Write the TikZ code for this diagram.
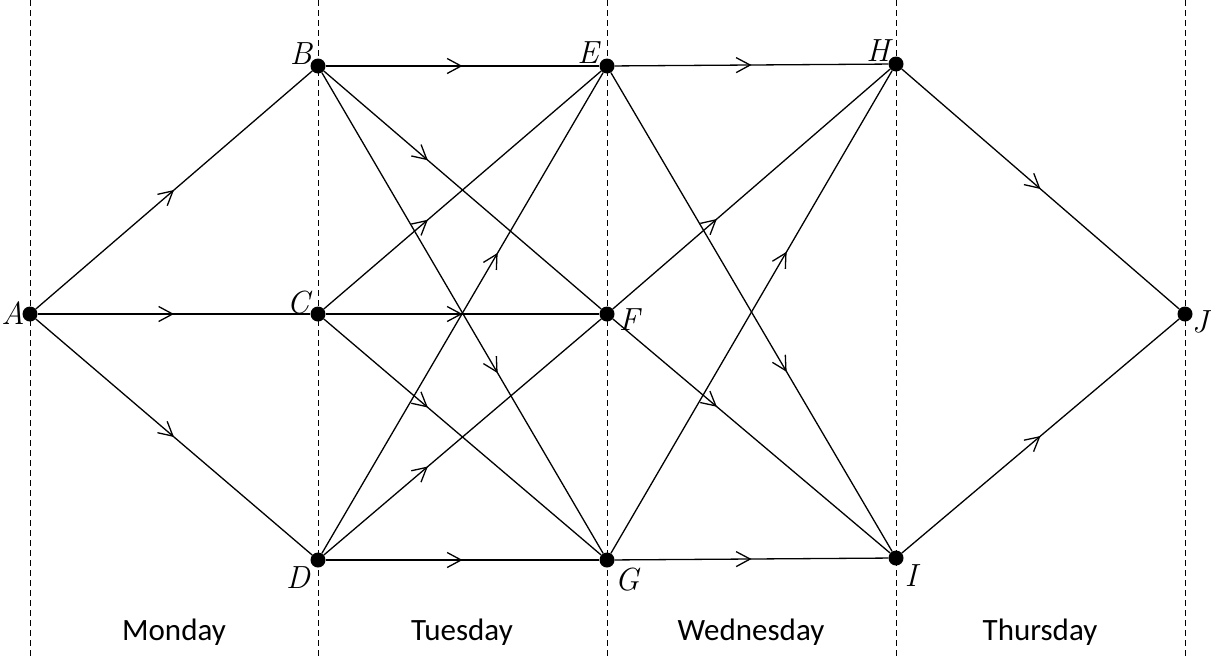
\documentclass[tikz,border=0pt]{standalone}
\usepackage{fontspec}
\setsansfont{Carlito}
\usetikzlibrary{decorations.markings,arrows.meta}
\tikzset{
  dot/.style={circle,fill=black,inner sep=0pt,minimum size=15pt},
  daydash/.style={line width=0.9pt,dash pattern=on 6pt off 4pt},
  edge/.style={line width=1.3pt},
  midarrow/.style={edge,postaction={decorate},decoration={markings,
     mark=at position #1 with {\arrow{Straight Barb[length=14pt,width=15pt,line width=1.3pt]}}}},
  lbl/.style={font=\itshape\fontsize{32}{32}\selectfont},
  daylbl/.style={font=\sffamily\fontsize{31}{31}\selectfont}
}
\begin{document}
\begin{tikzpicture}[x=1pt,y=-1pt]
\useasboundingbox (0,0) rectangle (1211,659);
% dashed day separators
\foreach \i/\xx in {1/30,2/318,3/607,4/896,5/1185}{
  \coordinate (t\i) at (\xx,0);
  \coordinate (b\i) at (\xx,659);
  \draw[daydash] (t\i) -- (b\i);
}
% vertices
\node[dot] (A) at (30,314) {};
\node[dot] (B) at (318,66) {};
\node[dot] (C) at (318,314) {};
\node[dot] (D) at (318,560) {};
\node[dot] (E) at (607,66) {};
\node[dot] (F) at (607,314) {};
\node[dot] (G) at (607,560) {};
\node[dot] (H) at (896,64) {};
\node[dot] (I) at (896,558) {};
\node[dot] (J) at (1185,314) {};
% labels
\node[lbl] (lA) at (13,313) {A};
\node[lbl] (lB) at (301,54) {B};
\node[lbl] (lC) at (298,303) {C};
\node[lbl] (lD) at (298,578) {D};
\node[lbl] (lE) at (588,53) {E};
\node[lbl] (lF) at (629,320) {F};
\node[lbl] (lG) at (627,580) {G};
\node[lbl] (lH) at (878,51) {H};
\node[lbl] (lI) at (911,576) {I};
\node[lbl] (lJ) at (1200,322) {J};
% edges
\draw[midarrow=0.5] (A) -- (B);
\draw[midarrow=0.5] (A) -- (C);
\draw[midarrow=0.5] (A) -- (D);
\draw[midarrow=0.5] (B) -- (E);
\draw[midarrow=0.375] (B) -- (F);
\draw[midarrow=0.625] (B) -- (G);
\draw[midarrow=0.375] (C) -- (E);
\draw[midarrow=0.5] (C) -- (F);
\draw[midarrow=0.375] (C) -- (G);
\draw[midarrow=0.625] (D) -- (E);
\draw[midarrow=0.375] (D) -- (F);
\draw[midarrow=0.5] (D) -- (G);
\draw[midarrow=0.5] (E) -- (H);
\draw[midarrow=0.625] (E) -- (I);
\draw[midarrow=0.375] (F) -- (H);
\draw[midarrow=0.375] (F) -- (I);
\draw[midarrow=0.625] (G) -- (H);
\draw[midarrow=0.5] (G) -- (I);
\draw[midarrow=0.5] (H) -- (J);
\draw[midarrow=0.5] (I) -- (J);
% day labels
\node[daylbl] (mon) at (174,632) {Monday};
\node[daylbl] (tue) at (462,632) {Tuesday};
\node[daylbl] (wed) at (751,632) {Wednesday};
\node[daylbl] (thu) at (1040,632) {Thursday};
\end{tikzpicture}
\end{document}
